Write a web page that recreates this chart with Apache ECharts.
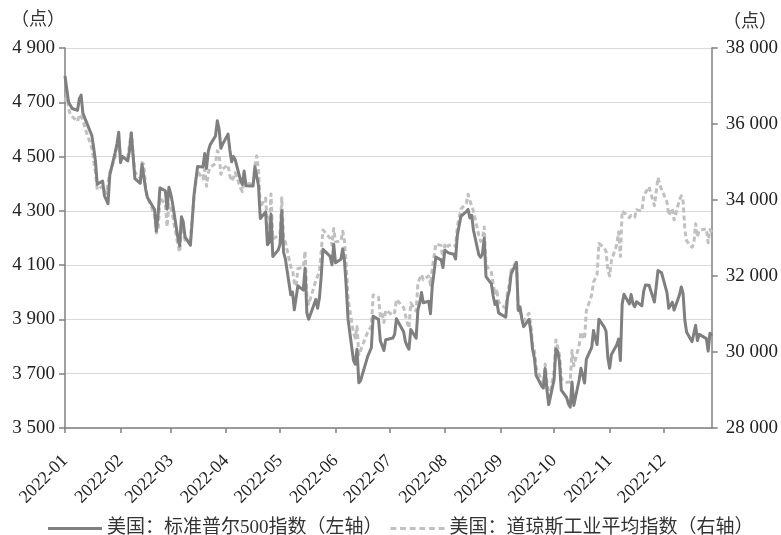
<!DOCTYPE html>
<html>
<head>
<meta charset="utf-8">
<script src="https://cdn.jsdelivr.net/npm/echarts@6/dist/echarts.min.js"></script>
<style>
html,body{margin:0;padding:0;background:#fff;}
#chart{width:781px;height:535px;}
</style>
</head>
<body>
<div id="chart"></div>
<script>
// Trading days of 2022 (MM-DD)
const tradeDays = [
'01-03','01-04','01-05','01-06','01-07','01-10','01-11','01-12','01-13','01-14','01-18','01-19','01-20','01-21','01-24','01-25','01-26','01-27','01-28','01-31',
'02-01','02-02','02-03','02-04','02-07','02-08','02-09','02-10','02-11','02-14','02-15','02-16','02-17','02-18','02-22','02-23','02-24','02-25','02-28',
'03-01','03-02','03-03','03-04','03-07','03-08','03-09','03-10','03-11','03-14','03-15','03-16','03-17','03-18','03-21','03-22','03-23','03-24','03-25','03-28','03-29','03-30','03-31',
'04-01','04-04','04-05','04-06','04-07','04-08','04-11','04-12','04-13','04-14','04-18','04-19','04-20','04-21','04-22','04-25','04-26','04-27','04-28','04-29',
'05-02','05-03','05-04','05-05','05-06','05-09','05-10','05-11','05-12','05-13','05-16','05-17','05-18','05-19','05-20','05-23','05-24','05-25','05-26','05-27','05-31',
'06-01','06-02','06-03','06-06','06-07','06-08','06-09','06-10','06-13','06-14','06-15','06-16','06-17','06-21','06-22','06-23','06-24','06-27','06-28','06-29','06-30',
'07-01','07-05','07-06','07-07','07-08','07-11','07-12','07-13','07-14','07-15','07-18','07-19','07-20','07-21','07-22','07-25','07-26','07-27','07-28','07-29',
'08-01','08-02','08-03','08-04','08-05','08-08','08-09','08-10','08-11','08-12','08-15','08-16','08-17','08-18','08-19','08-22','08-23','08-24','08-25','08-26','08-29','08-30','08-31',
'09-01','09-02','09-06','09-07','09-08','09-09','09-12','09-13','09-14','09-15','09-16','09-19','09-20','09-21','09-22','09-23','09-26','09-27','09-28','09-29','09-30',
'10-03','10-04','10-05','10-06','10-07','10-10','10-11','10-12','10-13','10-14','10-17','10-18','10-19','10-20','10-21','10-24','10-25','10-26','10-27','10-28','10-31',
'11-01','11-02','11-03','11-04','11-07','11-08','11-09','11-10','11-11','11-14','11-15','11-16','11-17','11-18','11-21','11-22','11-23','11-25','11-28','11-29','11-30',
'12-01','12-02','12-05','12-06','12-07','12-08','12-09','12-12','12-13','12-14','12-15','12-16','12-19','12-20','12-21','12-22','12-23','12-27','12-28','12-29','12-30'
];

// 美国：标准普尔500指数 (left axis)
const sp500 = [
4796.56,4793.54,4700.58,4696.05,4677.03,4670.29,4713.07,4726.35,4659.03,4662.85,4577.11,4532.76,4482.73,4397.94,4410.13,4356.45,4349.93,4326.51,4431.85,4515.55,
4546.54,4589.38,4477.44,4500.53,4483.87,4521.54,4587.18,4504.08,4418.64,4401.67,4471.07,4475.01,4380.26,4348.87,4304.76,4225.50,4288.70,4384.65,4373.94,
4306.26,4386.54,4363.49,4328.87,4201.09,4170.70,4277.88,4259.52,4204.31,4173.11,4262.45,4357.86,4411.67,4463.12,4461.18,4511.61,4456.24,4520.16,4543.06,4575.52,4631.60,4602.45,4530.41,
4545.86,4582.64,4525.12,4481.15,4500.21,4488.28,4412.53,4397.45,4446.59,4392.59,4391.69,4462.21,4459.45,4393.66,4271.78,4296.12,4175.20,4183.96,4287.50,4131.93,
4155.38,4175.48,4300.17,4146.87,4123.34,3991.24,4001.05,3935.18,3930.08,4023.89,4008.01,4088.85,3923.68,3900.79,3901.36,3973.75,3941.48,3978.73,4057.84,4158.24,4132.15,
4101.23,4176.82,4108.54,4121.43,4160.68,4115.77,4017.82,3900.86,3749.63,3735.48,3789.99,3666.77,3674.84,3764.79,3759.89,3795.73,3911.74,3900.11,3821.55,3818.83,3785.38,
3825.33,3831.39,3845.08,3902.62,3899.38,3854.43,3818.80,3801.78,3790.38,3863.16,3830.85,3936.69,3959.90,3998.95,3961.63,3966.84,3921.05,4023.61,4072.43,4130.29,
4118.63,4091.19,4155.17,4151.94,4145.19,4140.06,4122.47,4210.24,4207.27,4280.15,4297.14,4305.20,4274.04,4283.74,4228.48,4137.99,4128.73,4140.77,4199.12,4057.66,4030.61,3986.16,3955.00,
3966.85,3924.26,3908.19,3979.87,4006.18,4067.36,4110.41,3932.69,3946.01,3901.35,3873.33,3899.89,3855.93,3789.93,3757.99,3693.23,3655.04,3647.29,3719.04,3640.47,3585.62,
3678.43,3790.93,3783.28,3744.52,3639.66,3612.39,3588.84,3577.03,3669.91,3583.07,3677.95,3719.98,3695.16,3665.78,3752.75,3797.34,3859.11,3830.60,3807.30,3901.06,3871.98,
3856.10,3759.69,3719.89,3770.55,3806.80,3828.11,3748.57,3956.37,3992.93,3957.25,3991.73,3958.79,3946.56,3965.34,3949.94,4003.58,4027.26,4026.12,3963.94,3957.63,4080.11,
4076.57,4071.70,3998.84,3941.26,3933.92,3963.51,3934.38,3990.56,4019.65,3995.32,3895.75,3852.36,3817.66,3821.62,3878.44,3822.39,3844.82,3829.25,3783.22,3849.28,3839.50
];

// 美国：道琼斯工业平均指数 (right axis)
const djia = [
36585,36799,36408,36236,36231,36068,36252,36290,36113,35912,35368,35029,34715,34265,34365,34297,34168,34160,34725,35132,
35405,35630,35111,35090,35091,35463,35768,35242,34738,34566,34989,34935,34312,34079,33597,33132,33224,34059,33893,
33295,33891,33795,33615,32818,32633,33287,33174,32944,32945,33544,34063,34481,34755,34553,34808,34359,34708,34862,34955,35294,35229,34678,
34818,34922,34641,34497,34584,34721,34309,34221,34565,34451,34412,34911,35161,34793,33811,34049,33240,33302,34160,32977,
33062,33129,34061,32998,32899,32246,32161,31834,31730,32197,32223,32655,31490,31253,31262,31880,31929,32120,32637,33213,32990,
32813,33249,32900,32916,33180,32910,32273,31393,30517,30365,30669,29927,29889,30530,30484,30677,31501,31439,30947,31029,30775,
31097,30968,31037,31385,31338,31173,30981,30773,30630,31289,31072,31827,31875,32036,31899,32000,31762,32198,32529,32845,
32798,32397,32813,32727,32803,32833,32775,33310,33337,33761,33913,34152,33981,33999,33707,33064,32910,32970,33292,32283,32099,31791,31510,
31656,31318,31145,31581,31775,32152,32381,31105,31135,30962,30822,31020,30706,30184,30077,29590,29261,29135,29684,29226,28726,
29490,30317,30274,29927,29297,29203,29240,29211,30039,29635,30186,30524,30424,30334,31083,31500,31837,31839,32034,32861,32733,
32653,32148,32001,32403,32827,33161,32514,33716,33748,33537,33593,33554,33547,33746,33700,34098,34194,34347,33850,33853,34590,
34395,34430,33948,33597,33598,33781,33477,34006,34109,33966,33203,32920,32758,32850,33377,33028,33204,33242,32876,33221,33147
];

const seriesNames = ['美国：标准普尔500指数（左轴）', '美国：道琼斯工业平均指数（右轴）'];
const unitLabel = '（点）';
const leftAxis = {min: 3500, max: 4900, interval: 200};
const rightAxis = {min: 28000, max: 38000, interval: 2000};

// calendar-day category axis (Excel-style date axis, 2022-01-03 .. 2022-12-30)
const calendar = [];
(function(){
  let t = Date.UTC(2022, 0, 3);
  const end = Date.UTC(2022, 11, 30);
  while (t <= end) {
    const d = new Date(t);
    calendar.push(d.getUTCFullYear() + '-' + String(d.getUTCMonth()+1).padStart(2,'0') + '-' + String(d.getUTCDate()).padStart(2,'0'));
    t += 86400000;
  }
})();

const FONT = "'Liberation Serif', 'Times New Roman', 'Noto Sans CJK SC', serif";
const fmtNum = v => String(v).replace(/\B(?=(\d{3})+(?!\d))/g, ' ');
const isTickDay = (i, v) => v.slice(8) === '03';

const SOLID_ICON = 'path://M0,0H56V3H0Z';
const DASH_ICON = 'path://M0,0H6V3H0ZM10,0H16V3H10ZM20,0H26V3H20ZM30,0H36V3H30ZM40,0H46V3H40ZM50,0H56V3H50Z';

const chart = echarts.init(document.getElementById('chart'), null, {renderer: 'canvas'});
chart.setOption({
  backgroundColor: '#fff',
  animation: false,
  textStyle: {fontFamily: FONT},
  grid: {left: 65, right: 69, top: 48, bottom: 107, containLabel: false},
  legend: {
    left: 43, bottom: -8,
    itemWidth: 54, itemHeight: 3, itemGap: 8,
    textStyle: {fontFamily: FONT, fontSize: 19, color: '#333'},
    data: [
      {name: seriesNames[0], icon: SOLID_ICON},
      {name: seriesNames[1], icon: DASH_ICON}
    ]
  },
  graphic: [
    {type: 'text', left: 11, top: 11, style: {text: unitLabel, font: "18px " + FONT, fill: '#333'}},
    {type: 'text', right: 4, top: 13, style: {text: unitLabel, font: "18px " + FONT, fill: '#333'}}
  ],
  xAxis: {
    type: 'category',
    data: calendar,
    boundaryGap: false,
    axisLine: {lineStyle: {color: '#808080', width: 1.5}},
    axisTick: {interval: isTickDay, length: 5, lineStyle: {color: '#808080', width: 1.5}},
    axisLabel: {
      interval: isTickDay, rotate: 45, margin: 30,
      fontSize: 18, color: '#222', fontFamily: FONT,
      formatter: v => v.slice(0, 7)
    },
    splitLine: {show: false}
  },
  yAxis: [
    {
      type: 'value', position: 'left',
      min: leftAxis.min, max: leftAxis.max, interval: leftAxis.interval,
      axisLine: {show: true, lineStyle: {color: '#808080', width: 1.5}},
      axisTick: {show: true, length: 6, lineStyle: {color: '#808080', width: 1.5}},
      axisLabel: {margin: 10, fontSize: 19, color: '#222', fontFamily: FONT, formatter: fmtNum},
      splitLine: {show: true, lineStyle: {color: '#d9d9d9', width: 1.2}}
    },
    {
      type: 'value', position: 'right',
      min: rightAxis.min, max: rightAxis.max, interval: rightAxis.interval,
      axisLine: {show: true, lineStyle: {color: '#808080', width: 1.5}},
      axisTick: {show: true, length: 6, lineStyle: {color: '#808080', width: 1.5}},
      axisLabel: {margin: 14, fontSize: 19, color: '#222', fontFamily: FONT, formatter: fmtNum},
      splitLine: {show: false}
    }
  ],
  series: [
    {
      name: seriesNames[0], type: 'line', yAxisIndex: 0,
      data: tradeDays.map((d, i) => ['2022-' + d, sp500[i]]),
      showSymbol: false, symbol: 'none', connectNulls: true,
      lineStyle: {color: '#7f7f7f', width: 3, join: 'round'},
      itemStyle: {color: '#7f7f7f'},
      z: 3
    },
    {
      name: seriesNames[1], type: 'line', yAxisIndex: 1,
      data: tradeDays.map((d, i) => ['2022-' + d, djia[i]]),
      showSymbol: false, symbol: 'none', connectNulls: true,
      lineStyle: {color: '#c0c0c0', width: 3, type: [5, 3], join: 'round'},
      itemStyle: {color: '#c0c0c0'},
      z: 2
    }
  ]
});
</script>
</body>
</html>
